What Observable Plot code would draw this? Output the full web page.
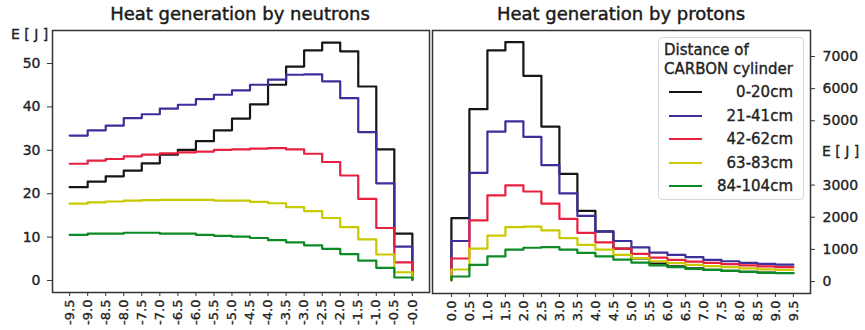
<!DOCTYPE html>
<html><head><meta charset="utf-8">
<script src="https://cdn.jsdelivr.net/npm/d3@7"></script>
<script src="https://cdn.jsdelivr.net/npm/@observablehq/plot@0.6"></script>
<style>
body{margin:0;background:#fff;font-family:"DejaVu Sans",sans-serif;color:#222}
#wrap{position:relative;width:865px;height:330px;overflow:hidden;background:#fff}
.abs{position:absolute}
.title{font-size:18px;white-space:nowrap;transform:translateX(-50%);color:#1a1a1a;-webkit-text-stroke:0.45px #1a1a1a}
.ylab{font-size:14px;white-space:nowrap;color:#222;-webkit-text-stroke:0.35px #222}
#wrap svg text{stroke:#222;stroke-width:0.35px}
#legend{left:658px;top:37px;width:146px;height:163px;box-sizing:border-box;border:1px solid #d8d8d8;border-radius:4px;background:rgba(255,255,255,0.85);font-size:15px;color:#222;-webkit-text-stroke:0.35px #222}
#legend .lt{position:absolute;left:5px;top:3px;line-height:19px;white-space:nowrap;font-size:15px}
#legend .row{position:absolute;left:0;width:146px;height:20px}
#legend .sw{position:absolute;left:10px;top:9px;width:33px;height:0;border-top:2.5px solid}
#legend .lb{position:absolute;right:12px;top:0;line-height:20px;white-space:nowrap}
</style></head>
<body><div id="wrap"></div>
<script>
// ---- data ----
const seriesNames = ["0-20cm", "21-41cm", "42-62cm", "63-83cm", "84-104cm"];
const seriesColors = ["#161616", "#3d2f9b", "#e8203f", "#c9c900", "#0c8a26"];

const leftX = [-9.5, -9.0, -8.5, -8.0, -7.5, -7.0, -6.5, -6.0, -5.5, -5.0, -4.5, -4.0, -3.5, -3.0, -2.5, -2.0, -1.5, -1.0, -0.5, 0.0];
const leftTickLabels = ["-9.5", "-9.0", "-8.5", "-8.0", "-7.5", "-7.0", "-6.5", "-6.0", "-5.5", "-5.0", "-4.5", "-4.0", "-3.5", "-3.0", "-2.5", "-2.0", "-1.5", "-1.0", "-0.5", "-0.0"];
const neutron0_20   = [21.5, 22.8, 24.0, 25.3, 27.0, 29.0, 30.1, 32.1, 34.6, 37.3, 40.6, 45.1, 49.3, 53.0, 54.8, 52.8, 44.7, 30.2, 10.8, 0.2];
const neutron21_41  = [33.4, 34.6, 35.7, 37.4, 38.3, 39.6, 40.5, 41.8, 42.8, 43.8, 45.1, 46.3, 47.4, 47.5, 45.9, 42.0, 34.2, 22.4, 7.8, 0.2];
const neutron42_62  = [26.9, 27.6, 28.0, 28.6, 29.0, 29.3, 29.5, 29.7, 30.1, 30.2, 30.4, 30.5, 30.2, 29.2, 27.3, 24.2, 18.8, 12.1, 4.2, 0.2];
const neutron63_83  = [17.7, 18.0, 18.2, 18.4, 18.5, 18.6, 18.6, 18.6, 18.4, 18.4, 18.1, 17.8, 16.9, 16.0, 14.4, 12.3, 9.5, 6.0, 1.9, 0.2];
const neutron84_104 = [10.5, 10.8, 10.8, 11.0, 11.0, 10.8, 10.8, 10.5, 10.3, 10.1, 9.8, 9.3, 8.8, 8.1, 7.3, 6.1, 4.6, 2.9, 0.7, 0.2];

const rightX = [0.0, 0.5, 1.0, 1.5, 2.0, 2.5, 3.0, 3.5, 4.0, 4.5, 5.0, 5.5, 6.0, 6.5, 7.0, 7.5, 8.0, 8.5, 9.0, 9.5];
const rightTickLabels = ["0.0", "0.5", "1.0", "1.5", "2.0", "2.5", "3.0", "3.5", "4.0", "4.5", "5.0", "5.5", "6.0", "6.5", "7.0", "7.5", "8.0", "8.5", "9.0", "9.5"];
const proton0_20   = [40, 1970, 5360, 7190, 7450, 6400, 4820, 3350, 2200, 1560, 1020, 720, 560, 470, 410, 360, 330, 300, 275, 265];
const proton21_41  = [40, 1260, 3380, 4660, 4980, 4500, 3620, 2740, 2040, 1550, 1260, 1060, 900, 830, 760, 670, 630, 580, 550, 525];
const proton42_62  = [40, 716, 1900, 2680, 2990, 2800, 2420, 1950, 1510, 1220, 1020, 860, 740, 670, 620, 580, 540, 500, 470, 445];
const proton63_83  = [40, 373, 1020, 1430, 1690, 1710, 1590, 1350, 1140, 990, 830, 730, 630, 570, 520, 480, 450, 410, 380, 362];
const proton84_104 = [40, 156, 520, 780, 990, 1050, 1070, 990, 890, 780, 680, 590, 500, 450, 390, 360, 330, 300, 270, 258];

const leftYTicks = [0, 10, 20, 30, 40, 50];
const rightYTicks = [0, 1000, 2000, 3000, 5000, 6000, 7000];

const titleLeft = "Heat generation by neutrons";
const titleRight = "Heat generation by protons";
const yLabel = "E [ J ]";
const legendTitle = ["Distance of", "CARBON cylinder"];

// ---- build tables ----
const neutronSeries = [neutron0_20, neutron21_41, neutron42_62, neutron63_83, neutron84_104];
const protonSeries = [proton0_20, proton21_41, proton42_62, proton63_83, proton84_104];
const leftData = neutronSeries.flatMap((arr, s) => arr.map((v, i) => ({x: leftX[i], v, s: seriesNames[s]})));
const rightData = protonSeries.flatMap((arr, s) => arr.map((v, i) => ({x: rightX[i], v, s: seriesNames[s]})));

const wrap = document.getElementById("wrap");
const font = {fontFamily: "DejaVu Sans, sans-serif", fontSize: "14px", color: "#222", background: "transparent"};

const left = Plot.plot({
  width: 431, height: 330,
  marginLeft: 52, marginRight: 2, marginTop: 30, marginBottom: 38,
  style: font,
  x: {domain: [-9.975, 0.475]},
  y: {domain: [-2.76, 57.6]},
  color: {domain: seriesNames, range: seriesColors},
  marks: [
    Plot.line(leftData, {x: "x", y: "v", z: "s", stroke: "s", curve: "step-after", strokeWidth: 2.2}),
    Plot.frame({stroke: "#333", strokeWidth: 1.5}),
    Plot.axisY({ticks: leftYTicks, tickFormat: d => String(d), tickSize: 5, tickPadding: 7, label: null, fontSize: 14, stroke: "#333"}),
    Plot.axisX({ticks: leftX, tickFormat: d => leftTickLabels[leftX.indexOf(d)], tickRotate: -90, tickSize: 4, tickPadding: 3, label: null, fontSize: 13, stroke: "#333"})
  ]
});
left.style.position = "absolute"; left.style.left = "0px"; left.style.top = "0px";
wrap.appendChild(left);

const right = Plot.plot({
  width: 434, height: 330,
  marginLeft: 1, marginRight: 55, marginTop: 30, marginBottom: 37,
  style: font,
  x: {domain: [-0.525, 9.975]},
  y: {domain: [-373, 7809]},
  color: {domain: seriesNames, range: seriesColors},
  marks: [
    Plot.line(rightData, {x: "x", y: "v", z: "s", stroke: "s", curve: "step-before", strokeWidth: 2.2}),
    Plot.frame({stroke: "#333", strokeWidth: 1.5}),
    Plot.axisY({anchor: "right", ticks: rightYTicks, tickFormat: d => String(d), tickSize: 4, tickPadding: 8, label: null, fontSize: 14, stroke: "#333"}),
    Plot.axisX({ticks: rightX, tickFormat: d => rightTickLabels[rightX.indexOf(d)], tickRotate: -90, tickSize: 4, tickPadding: 3, label: null, fontSize: 13, stroke: "#333"})
  ]
});
right.style.position = "absolute"; right.style.left = "431px"; right.style.top = "0px";
wrap.appendChild(right);

function addDiv(cls, text, css) {
  const d = document.createElement("div");
  d.className = "abs " + cls;
  d.textContent = text;
  Object.assign(d.style, css);
  wrap.appendChild(d);
  return d;
}
addDiv("title", titleLeft, {left: "240px", top: "3px"});
addDiv("title", titleRight, {left: "621px", top: "3px"});
addDiv("ylab", yLabel, {left: "11px", top: "26px"});
addDiv("ylab", yLabel, {left: "822px", top: "143px"});

// legend
const lg = document.createElement("div");
lg.id = "legend"; lg.className = "abs";
const lt = document.createElement("div");
lt.className = "lt";
lt.innerHTML = legendTitle.map(t => `<div>${t}</div>`).join("");
lg.appendChild(lt);
seriesNames.forEach((n, i) => {
  const r = document.createElement("div");
  r.className = "row";
  r.style.top = (44 + i * 23.5) + "px";
  const sw = document.createElement("div");
  sw.className = "sw"; sw.style.borderTopColor = seriesColors[i];
  const lb = document.createElement("div");
  lb.className = "lb"; lb.textContent = n;
  r.appendChild(sw); r.appendChild(lb);
  lg.appendChild(r);
});
wrap.appendChild(lg);
</script>
</body></html>
